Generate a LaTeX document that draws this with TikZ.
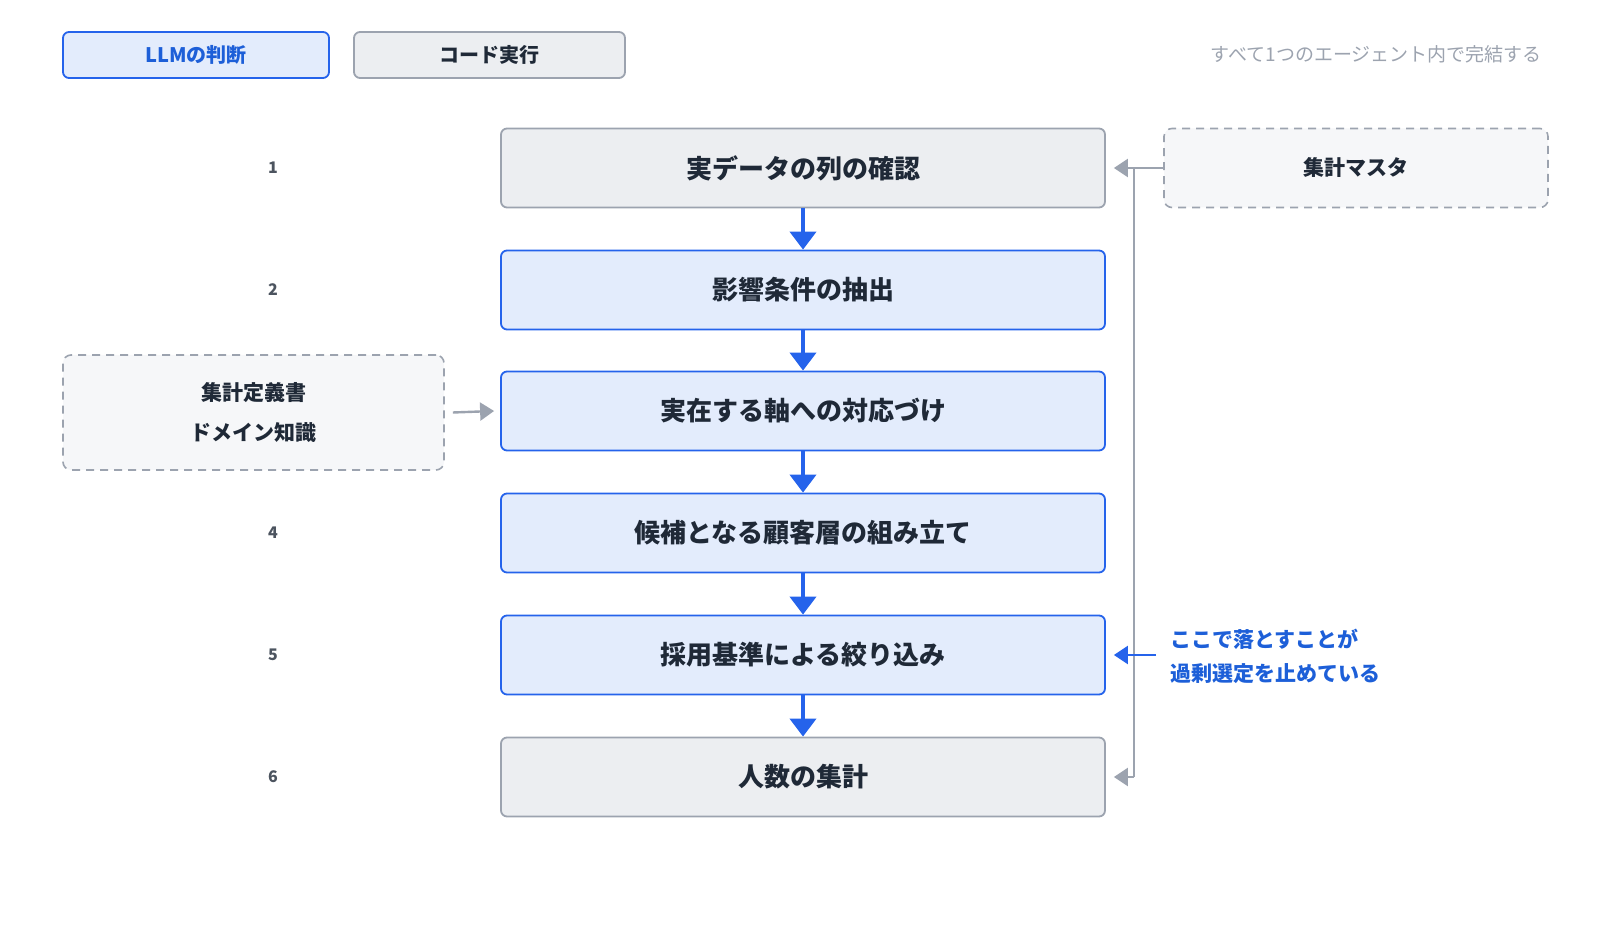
\documentclass[tikz,border=0pt]{standalone}
\usepackage{fontspec}
\setmainfont{Noto Sans CJK JP}
\usetikzlibrary{arrows.meta}
\definecolor{bfill}{HTML}{E3ECFC}
\definecolor{bline}{HTML}{2563EB}
\definecolor{gfill}{HTML}{ECEEF1}
\definecolor{gline}{HTML}{9CA3AF}
\definecolor{dfill}{HTML}{F6F7F9}
\definecolor{txt}{HTML}{1F2937}
\definecolor{btxt}{HTML}{1D5FD8}
\begin{document}
\begin{tikzpicture}[x=0.5pt,y=-0.5pt,
 box/.style={rounded corners=3pt,line width=0.9pt,minimum width=302pt,minimum height=39.5pt,inner sep=0pt},
 llm/.style={box,fill=bfill,draw=bline},
 code/.style={box,fill=gfill,draw=gline},
 ttl/.style={font=\bfseries\fontsize{13}{15}\selectfont,text=txt},
 num/.style={font=\bfseries\fontsize{8}{10}\selectfont,text=txt!80},
 dbox/.style={rounded corners=4pt,draw=gline,fill=dfill,dashed,dash pattern=on 4pt off 3pt,line width=0.8pt,inner sep=0pt},
 flow/.style={bline,line width=2pt,-{Triangle[length=9pt,width=13pt]}},
 side/.style={gline,line width=1.2pt,-{Triangle[length=7pt,width=9pt]}}]
\useasboundingbox (0,0) rectangle (1600,940);
% legend
\node[rounded corners=3pt,fill=bfill,draw=bline,line width=0.9pt,minimum width=133pt,minimum height=23pt,font=\bfseries\fontsize{10}{12}\selectfont,text=btxt] (lg1) at (196,55) {LLMの判断};
\node[rounded corners=3pt,fill=gfill,draw=gline,line width=0.9pt,minimum width=135.5pt,minimum height=23pt,font=\bfseries\fontsize{10}{12}\selectfont,text=txt] (lg2) at (489.5,55) {コード実行};
\node[anchor=east,font=\fontsize{9.5}{12}\selectfont,text=gline] (note) at (1549,54) {すべて1つのエージェント内で完結する};
% steps
\node[code] (s1) at (803,168) {}; \node[ttl] at (s1) {実データの列の確認};
\node[llm] (s2) at (803,290) {}; \node[ttl] at (s2) {影響条件の抽出};
\node[llm] (s3) at (803,411) {}; \node[ttl] at (s3) {実在する軸への対応づけ};
\node[llm] (s4) at (803,533) {}; \node[ttl] at (s4) {候補となる顧客層の組み立て};
\node[llm] (s5) at (803,655) {}; \node[ttl] at (s5) {採用基準による絞り込み};
\node[code] (s6) at (803,777) {}; \node[ttl] at (s6) {人数の集計};
\foreach \i in {1,...,6}{\node[num] (n\i) at ([xshift=-265pt]s\i.center) {\i};}
\foreach \a/\b in {s1/s2,s2/s3,s3/s4,s4/s5,s5/s6}{\draw[flow] (\a.south) -- (\b.north);}
% right master box
\node[dbox,minimum width=192pt,minimum height=39.5pt] (m) at (1356,168) {};
\node[font=\bfseries\fontsize{10.5}{12}\selectfont,text=txt] at (m) {集計マスタ};
\coordinate (v1) at (1134,168); \coordinate (v2) at (1134,777);
\draw[side] (m.west) -- ([xshift=4pt]s1.east);
\draw[gline,line width=1.2pt] (v1) -- (v2);
\draw[side] (v2) -- ([xshift=4pt]s6.east);
% left box
\node[dbox,minimum width=190.5pt,minimum height=57.5pt,align=center,font=\bfseries\fontsize{10.5}{20}\selectfont,text=txt] (k) at (253.5,412.5) {集計定義書\\ドメイン知識};
\draw[side] ([xshift=4pt]k.east) -- ([xshift=-3pt]s3.west);
% blue note
\node[anchor=west,align=left,font=\bfseries\fontsize{10.5}{17}\selectfont,text=btxt] (bn) at (1163,656) {ここで落とすことが\\過剰選定を止めている};
\coordinate (bs) at (1156,655);
\draw[bline,line width=1.2pt,-{Triangle[length=7pt,width=9pt]}] (bs) -- ([xshift=4pt]s5.east);
\end{tikzpicture}
\end{document}
